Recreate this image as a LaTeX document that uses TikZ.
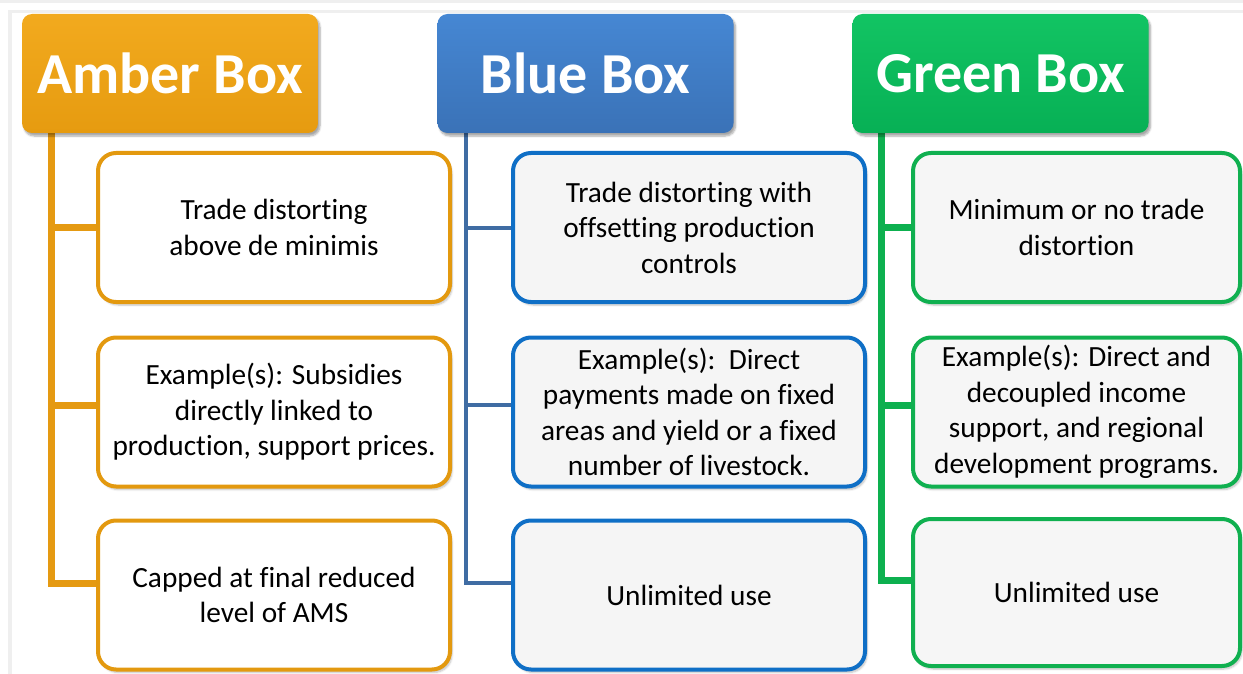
\documentclass[tikz,border=0pt]{standalone}
\usepackage{fontspec}
\setmainfont{Carlito}[Ligatures=NoCommon]
\usetikzlibrary{positioning,shadows.blur}
\pgfdeclarelayer{background}
\pgfsetlayers{background,main}
\definecolor{pageGray}{HTML}{EFEFEF}
\definecolor{amberHi}{HTML}{F2AA1E}
\definecolor{amberLo}{HTML}{E69B10}
\definecolor{amberEdge}{HTML}{E3990F}
\definecolor{amberLine}{HTML}{E59A12}
\definecolor{amberFill}{HTML}{FFFFFF}
\definecolor{blueHi}{HTML}{4687D3}
\definecolor{blueLo}{HTML}{3A72B7}
\definecolor{blueEdge}{HTML}{0F6FC6}
\definecolor{blueLine}{HTML}{3F6CA3}
\definecolor{blueFill}{HTML}{F5F5F5}
\definecolor{greenHi}{HTML}{12C463}
\definecolor{greenLo}{HTML}{07B055}
\definecolor{greenEdge}{HTML}{10B050}
\definecolor{greenLine}{HTML}{0DB04F}
\definecolor{greenFill}{HTML}{F6F6F6}
\tikzset{
  Head/.style={rounded corners=10pt, minimum width=296pt, minimum height=119pt,
    top color=#1Hi, bottom color=#1Lo, text=white,
    font=\fontsize{58}{60}\selectfont\bfseries,
    blur shadow={shadow xshift=2pt, shadow yshift=-3pt, shadow blur steps=6, shadow opacity=35}},
  Item/.style={draw=#1Edge, fill=#1Fill, line width=4pt, rounded corners=18pt,
    minimum width=352pt, minimum height=149pt, align=center,
    font=\fontsize{29.3}{35.5}\selectfont,
    blur shadow={shadow xshift=2pt, shadow yshift=-3pt, shadow blur steps=6, shadow opacity=25}},
  Trunk/.style={draw=#1Line, line width=7pt}
}
\begin{document}
\begin{tikzpicture}[x=1pt,y=-1pt]
  \useasboundingbox (0,0) rectangle (1243,674);
  % page frame
  \fill[pageGray] (0,0) rectangle (1243,3);
  \fill[pageGray] (8,10) rectangle (1243,13);
  \fill[pageGray] (8,13) rectangle (12,674);

  % column headers
  \node[Head=amber] (amberHead) at (170,73.5) {Amber Box};
  \node[Head=blue]  (blueHead)  at (585.5,73.5) {Blue Box};
  \node[Head=green] (greenHead) at (1000.5,73.5) {Green Box};
  \coordinate (amberTop) at ([xshift=30pt]amberHead.south west);
  \coordinate (blueTop)  at ([xshift=29pt]blueHead.south west);
  \coordinate (greenTop) at ([xshift=29pt]greenHead.south west);

  % item boxes
  \node[Item=amber] (amber1) at (274,227.5) {Trade distorting\\above de minimis};
  \node[Item=amber] (amber2) at (274,412) {Example(s): Subsidies\\directly linked to\\production, support prices.};
  \node[Item=amber] (amber3) at (274,595) {Capped at final reduced\\level of AMS};

  \node[Item=blue] (blue1) at (689,227.5) {Trade distorting with\\offsetting production\\controls};
  \node[Item=blue] (blue2) at (689,412) {Example(s):\ \ Direct\\payments made on fixed\\areas and yield or a fixed\\number of livestock.};
  \node[Item=blue] (blue3) at (689,595) {Unlimited use};

  \node[Item=green, minimum width=327pt] (green1) at (1076.5,227.5) {Minimum or no trade\\distortion};
  \node[Item=green, minimum width=327pt] (green2) at (1076.5,412) {Example(s): Direct and\\decoupled income\\support, and regional\\development programs.};
  \node[Item=green, minimum width=327pt, minimum height=147pt] (green3) at (1076.5,592.5) {Unlimited use};

  % trunks and branches, behind the boxes
  \begin{pgfonlayer}{background}
    \draw[Trunk=amber] ([yshift=12pt]amber3.west) -| (amberTop);
    \draw[Trunk=amber] (amberTop |- amber1.west) -- (amber1.west);
    \draw[Trunk=amber] ([yshift=7pt]amber2.west -| amberTop) -- ([yshift=7pt]amber2.west);
    \draw[Trunk=blue, line width=4pt] ([yshift=12pt]blue3.west) -| (blueTop);
    \draw[Trunk=blue, line width=4pt] (blueTop |- blue1.west) -- (blue1.west);
    \draw[Trunk=blue, line width=4pt] ([yshift=7pt]blue2.west -| blueTop) -- ([yshift=7pt]blue2.west);
    \draw[Trunk=green] ([yshift=12pt]green3.west) -| (greenTop);
    \draw[Trunk=green] (greenTop |- green1.west) -- (green1.west);
    \draw[Trunk=green] ([yshift=7pt]green2.west -| greenTop) -- ([yshift=7pt]green2.west);
  \end{pgfonlayer}
\end{tikzpicture}
\end{document}
